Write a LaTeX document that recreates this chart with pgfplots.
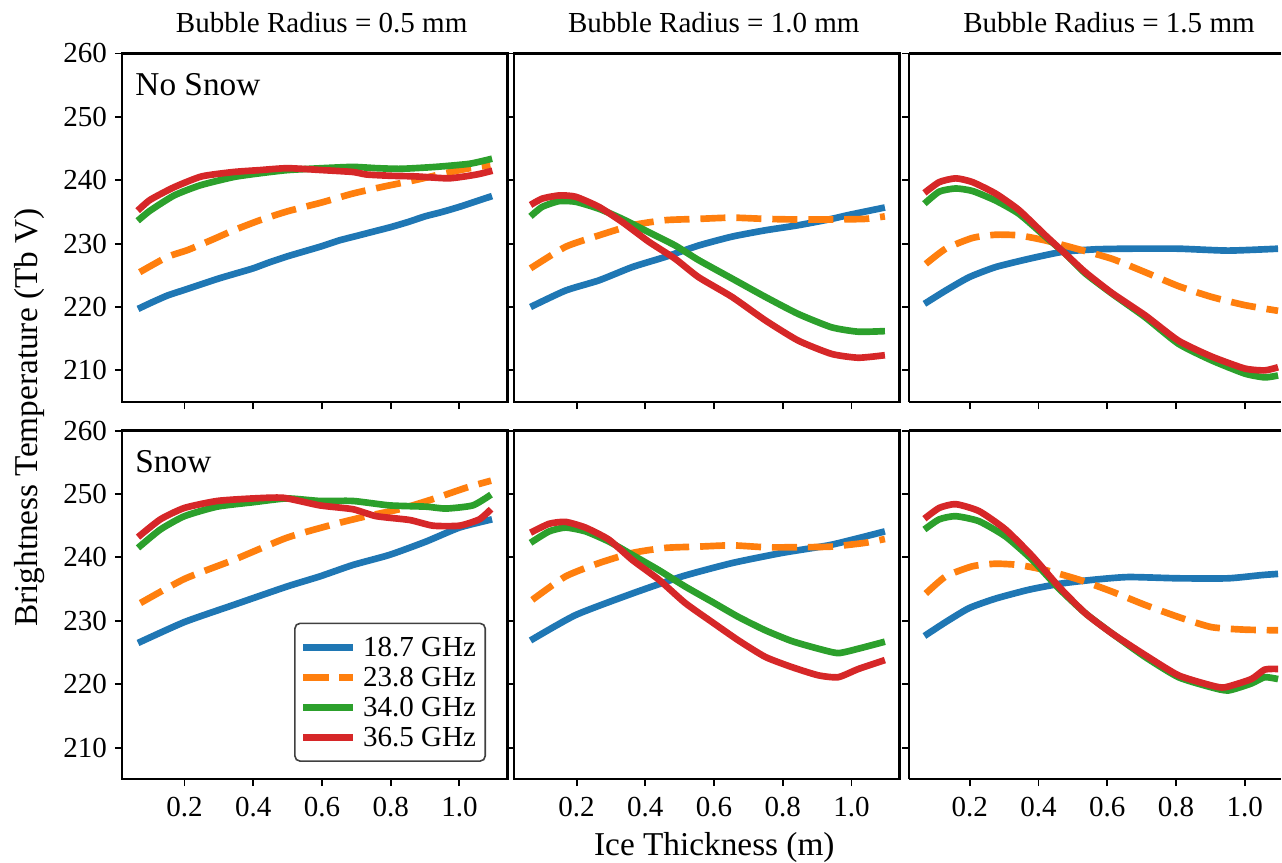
\documentclass[border=0pt]{standalone}
\usepackage{fontspec}
\setmainfont{Liberation Serif}
\usepackage{pgfplots}
\pgfplotsset{compat=1.18}
\definecolor{tabblue}{HTML}{1F77B4}
\definecolor{taborange}{HTML}{FF7F0E}
\definecolor{tabgreen}{HTML}{2CA02C}
\definecolor{tabred}{HTML}{D62728}
\pgfkeys{/pgf/number format/assume math mode=true}
\pgfplotsset{
  panel/.style={
    scale only axis, width=144.75pt, height=130.875pt,
    anchor=north west,
    xmin=0.018, xmax=1.14, ymin=205, ymax=260,
    xtick={0.2,0.4,0.6,0.8,1.0}, ytick={210,220,230,240,250,260},
    xtick pos=left, ytick pos=left,
    tick align=outside, major tick length=2.6pt,
    axis line style={line width=0.9pt, black},
    tick style={line width=0.7pt, black},
    xticklabel={\pgfmathprintnumber[fixed,fixed zerofill,precision=1]{\tick}},
    ticklabel style={font=\fontsize{10.9}{12}\selectfont},
    xticklabel style={anchor=north, inner sep=0pt, yshift=-3.8pt},
    yticklabel style={anchor=east, inner sep=0pt, xshift=-2.8pt},
    title style={font=\fontsize{10.9}{12}\selectfont, anchor=base, at={(0.5,1)}, yshift=1.7pt, xshift=2.6pt, inner sep=0pt},
    every axis plot/.append style={line width=2.5pt, line join=round, smooth, tension=0.35},
  },
  lastcol/.style={width=139.5pt, xmin=0.0236, xmax=1.105, axis x line*=box, axis y line*=left},
  noxl/.style={xticklabels={}},
  noyl/.style={yticklabels={}},
  sb/.style={tabblue, solid},
  so/.style={taborange, dash pattern=on 9.4pt off 4.1pt},
  sg/.style={tabgreen, solid},
  sr/.style={tabred, solid},
}
\begin{document}
\begin{tikzpicture}
\path (0,0) rectangle (480.75pt,-323.625pt);
% ---------- Row 1: No Snow ----------
\begin{axis}[panel, noxl, at={(45.75pt,-20.06pt)}, title={Bubble Radius = 0.5 mm}]
\addplot[sb] coordinates {(0.065,219.7)(0.1,220.6)(0.15,221.8)(0.2,222.7)(0.25,223.6)(0.3,224.5)(0.35,225.3)(0.4,226.1)(0.45,227.1)(0.5,228.0)(0.55,228.8)(0.6,229.6)(0.65,230.5)(0.7,231.2)(0.75,231.9)(0.8,232.6)(0.85,233.4)(0.9,234.3)(0.95,235.0)(1.0,235.8)(1.05,236.7)(1.095,237.5)};
\addplot[so] coordinates {(0.07,225.5)(0.15,227.9)(0.21,229.0)(0.28,230.6)(0.343,232.1)(0.42,233.7)(0.5,235.1)(0.6,236.5)(0.69,237.9)(0.78,239.0)(0.87,240.0)(0.95,241.0)(1.02,241.8)(1.09,242.4)};
\addplot[sg] coordinates {(0.064,233.6)(0.1,235.2)(0.17,237.6)(0.246,239.2)(0.343,240.5)(0.42,241.1)(0.5,241.6)(0.6,241.9)(0.69,242.1)(0.76,241.9)(0.83,241.8)(0.93,242.1)(1.03,242.6)(1.095,243.4)};
\addplot[sr] coordinates {(0.064,235.2)(0.1,236.9)(0.17,238.9)(0.25,240.6)(0.343,241.3)(0.42,241.6)(0.5,241.9)(0.6,241.6)(0.69,241.3)(0.73,240.9)(0.8,240.7)(0.875,240.6)(0.97,240.3)(1.05,240.9)(1.096,241.5)};
\node[anchor=base west, inner sep=0pt, font=\fontsize{12.5}{14}\selectfont, xshift=4.9pt, yshift=-15.7pt] at (rel axis cs:0,1) {No Snow};
\end{axis}
\begin{axis}[panel, noxl, noyl, at={(192.94pt,-20.06pt)}, title={Bubble Radius = 1.0 mm}]
\addplot[sb] coordinates {(0.066,220.0)(0.168,222.6)(0.265,224.2)(0.362,226.3)(0.458,227.9)(0.555,229.7)(0.652,231.1)(0.749,232.1)(0.845,232.9)(0.942,233.9)(0.99,234.5)(1.097,235.7)};
\addplot[so] coordinates {(0.066,226.1)(0.168,229.5)(0.265,231.3)(0.362,232.9)(0.458,233.7)(0.555,233.9)(0.652,234.1)(0.749,233.9)(0.845,233.8)(0.942,233.8)(1.04,233.9)(1.097,234.3)};
\addplot[sg] coordinates {(0.066,234.3)(0.1,235.8)(0.149,236.7)(0.197,236.6)(0.265,235.5)(0.333,233.9)(0.41,231.8)(0.487,229.7)(0.555,227.4)(0.652,224.5)(0.749,221.6)(0.845,218.9)(0.942,216.8)(1.02,216.1)(1.097,216.2)};
\addplot[sr] coordinates {(0.066,236.1)(0.1,237.1)(0.149,237.6)(0.197,237.4)(0.265,235.8)(0.333,233.4)(0.41,230.3)(0.487,227.6)(0.555,224.7)(0.652,221.6)(0.749,217.9)(0.845,214.7)(0.942,212.6)(1.02,212.0)(1.097,212.4)};
\end{axis}
\begin{axis}[panel, lastcol, noxl, noyl, at={(341.25pt,-20.06pt)}, title={Bubble Radius = 1.5 mm}, title style={xshift=2.65pt}]
\addplot[sb] coordinates {(0.068,220.5)(0.13,222.6)(0.198,224.7)(0.275,226.3)(0.372,227.6)(0.469,228.7)(0.565,229.1)(0.662,229.2)(0.807,229.2)(0.952,228.9)(1.097,229.2)};
\addplot[so] coordinates {(0.072,226.8)(0.13,229.2)(0.208,230.9)(0.275,231.4)(0.343,231.3)(0.42,230.5)(0.517,229.1)(0.614,227.6)(0.71,225.5)(0.807,223.3)(0.903,221.6)(1.0,220.3)(1.097,219.4)};
\addplot[sg] coordinates {(0.068,236.3)(0.111,238.2)(0.159,238.7)(0.208,238.3)(0.275,236.8)(0.343,234.7)(0.42,231.1)(0.478,228.4)(0.536,225.3)(0.614,222.1)(0.71,218.4)(0.807,214.2)(0.903,211.6)(1.0,209.5)(1.058,208.9)(1.097,209.2)};
\addplot[sr] coordinates {(0.068,238.0)(0.111,239.7)(0.159,240.3)(0.208,239.7)(0.275,237.9)(0.343,235.3)(0.42,231.3)(0.478,228.4)(0.536,225.5)(0.614,222.2)(0.71,218.7)(0.807,214.7)(0.903,212.2)(1.0,210.3)(1.058,210.0)(1.097,210.5)};
\end{axis}
% ---------- Row 2: Snow ----------
\begin{axis}[panel, at={(45.75pt,-161.625pt)},
  legend style={at={(0.4464,0.0496)}, anchor=south west, draw=black!75, rounded corners=2pt, line width=0.6pt,
    inner xsep=2pt, inner ysep=4pt, row sep=1.25pt,
    nodes={font=\fontsize{10.9}{12}\selectfont, inner sep=1.5pt, text height=7pt, text depth=0pt},
    /tikz/every odd column/.append style={column sep=1.2pt}},
  legend cell align=left,
  legend image code/.code={\draw[#1] (0pt,0pt) -- (18.4pt,0pt);}]
\addplot[sb] coordinates {(0.065,226.5)(0.2,229.8)(0.343,232.5)(0.498,235.4)(0.594,237.0)(0.69,238.8)(0.797,240.4)(0.903,242.5)(1.0,244.7)(1.095,246.0)};
\addplot[so] coordinates {(0.072,232.8)(0.2,236.6)(0.343,239.6)(0.498,243.1)(0.633,245.2)(0.73,246.5)(0.826,247.6)(0.923,249.2)(1.02,251.0)(1.092,252.1)};
\addplot[sg] coordinates {(0.065,241.5)(0.13,244.4)(0.2,246.5)(0.295,248.0)(0.4,248.7)(0.498,249.3)(0.594,248.9)(0.69,248.9)(0.797,248.2)(0.903,248.0)(0.961,247.7)(1.039,248.2)(1.092,249.9)};
\addplot[sr] coordinates {(0.065,243.2)(0.13,246.0)(0.2,247.8)(0.295,248.9)(0.4,249.3)(0.488,249.4)(0.594,248.2)(0.69,247.6)(0.758,246.5)(0.855,245.9)(0.923,245.0)(1.0,245.0)(1.058,246.0)(1.092,247.6)};
\legend{18.7 GHz, 23.8 GHz, 34.0 GHz, 36.5 GHz}
\node[anchor=base west, inner sep=0pt, font=\fontsize{12.5}{14}\selectfont, xshift=4.9pt, yshift=-15.7pt] at (rel axis cs:0,1) {Snow};
\end{axis}
\begin{axis}[panel, noyl, at={(192.94pt,-161.625pt)}]
\addplot[sb] coordinates {(0.066,226.9)(0.197,230.9)(0.362,234.3)(0.507,237.0)(0.652,239.1)(0.797,240.7)(0.942,242.0)(1.097,244.1)};
\addplot[so] coordinates {(0.071,233.3)(0.168,237.0)(0.265,239.1)(0.362,240.7)(0.458,241.5)(0.555,241.7)(0.652,241.9)(0.749,241.6)(0.845,241.6)(0.942,241.7)(1.04,242.3)(1.097,242.9)};
\addplot[sg] coordinates {(0.066,242.3)(0.12,244.1)(0.168,244.7)(0.226,244.1)(0.294,242.5)(0.362,240.4)(0.439,238.0)(0.516,235.4)(0.594,233.0)(0.671,230.6)(0.749,228.5)(0.826,226.8)(0.903,225.6)(0.961,224.9)(1.02,225.6)(1.097,226.7)};
\addplot[sr] coordinates {(0.066,243.9)(0.12,245.3)(0.168,245.6)(0.226,244.7)(0.294,242.8)(0.362,239.6)(0.439,236.5)(0.516,232.8)(0.594,229.8)(0.671,226.9)(0.749,224.3)(0.826,222.7)(0.903,221.4)(0.961,221.1)(1.02,222.4)(1.097,223.8)};
\end{axis}
\begin{axis}[panel, lastcol, noyl, at={(341.25pt,-161.625pt)}]
\addplot[sb] coordinates {(0.068,227.6)(0.13,229.8)(0.198,232.0)(0.275,233.5)(0.372,234.9)(0.469,235.9)(0.565,236.5)(0.662,236.9)(0.807,236.7)(0.952,236.7)(1.048,237.2)(1.097,237.4)};
\addplot[so] coordinates {(0.072,234.3)(0.13,237.0)(0.208,238.6)(0.275,239.0)(0.343,238.8)(0.42,238.0)(0.517,236.5)(0.614,234.6)(0.71,232.5)(0.807,230.6)(0.903,229.0)(1.0,228.6)(1.097,228.5)};
\addplot[sg] coordinates {(0.068,244.4)(0.111,246.0)(0.159,246.5)(0.227,245.7)(0.304,243.3)(0.382,239.6)(0.459,235.1)(0.536,231.2)(0.614,228.0)(0.71,224.3)(0.807,221.1)(0.903,219.5)(0.952,219.0)(1.019,220.1)(1.058,221.1)(1.097,220.8)};
\addplot[sr] coordinates {(0.068,246.1)(0.111,247.8)(0.159,248.4)(0.227,247.3)(0.304,244.4)(0.382,240.2)(0.459,235.4)(0.536,231.2)(0.614,228.0)(0.71,224.6)(0.807,221.4)(0.903,219.8)(0.942,219.5)(1.019,220.8)(1.058,222.3)(1.097,222.4)};
\end{axis}
% ---------- shared labels ----------
\node[rotate=90, font=\fontsize{12.5}{14}\selectfont, inner sep=0pt] at (11.25pt,-156.75pt) {Brightness Temperature (Tb V)};
\node[anchor=base, font=\fontsize{12.5}{14}\selectfont, inner sep=0pt] at (268.125pt,-321.19pt) {Ice Thickness (m)};
\end{tikzpicture}
\end{document}
